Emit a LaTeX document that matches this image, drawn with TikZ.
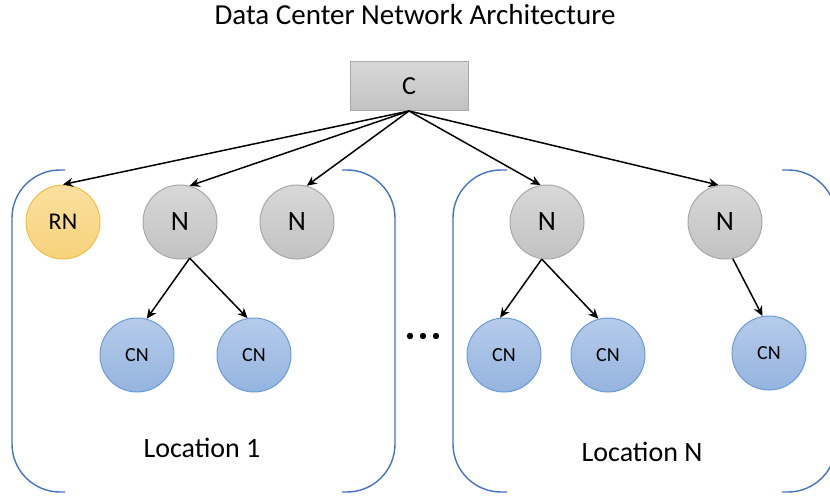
\documentclass[tikz,border=0pt]{standalone}
\usepackage{fontspec}
\setmainfont{Carlito}
\usetikzlibrary{arrows.meta}
\definecolor{locblue}{HTML}{4472C4}
\definecolor{rnfilltop}{HTML}{FBE0A0}
\definecolor{rnfillbot}{HTML}{F7D27A}
\definecolor{rnline}{HTML}{F3BE45}
\definecolor{nfilltop}{HTML}{D8D8D8}
\definecolor{nfillbot}{HTML}{C2C2C2}
\definecolor{nline}{HTML}{A8A8A8}
\definecolor{cnfilltop}{HTML}{B6CBEA}
\definecolor{cnfillbot}{HTML}{94B4DF}
\definecolor{cnline}{HTML}{6A9BD6}
\begin{document}
\begin{tikzpicture}[x=1pt,y=-1pt,
    ctrl/.style={draw=nline,line width=1pt,top color=nfilltop,bottom color=nfillbot,
      minimum width=118pt,minimum height=49pt,inner sep=0pt,font=\fontsize{26}{30}\selectfont},
    rnode/.style={circle,draw=rnline,line width=1pt,top color=rnfilltop,bottom color=rnfillbot,
      minimum size=74pt,inner sep=0pt,font=\fontsize{24}{28}\selectfont},
    nnode/.style={circle,draw=nline,line width=1pt,top color=nfilltop,bottom color=nfillbot,
      minimum size=74pt,inner sep=0pt,font=\fontsize{28}{32}\selectfont},
    cnode/.style={circle,draw=cnline,line width=1pt,top color=cnfilltop,bottom color=cnfillbot,
      minimum size=74pt,inner sep=0pt,font=\fontsize{20}{24}\selectfont},
    arr/.style={-{Stealth[length=10pt,width=9pt]},line width=1.5pt},
    loc/.style={locblue,line width=1.4pt,rounded corners=48pt}]
	\useasboundingbox (0,0) rectangle (830,497);
	\clip (0,0) rectangle (830,497);
	\node[font=\fontsize{29}{34}\selectfont] (title) at (415,15) {Data Center Network Architecture};
	\node[ctrl] (c) at (409,86) {C};
	\node[rnode] (rn) at (63,222) {RN};
	\node[nnode] (n1) at (180,222) {N};
	\node[nnode] (n2) at (297,222) {N};
	\node[nnode] (n3) at (547,222) {N};
	\node[nnode] (n4) at (725,222) {N};
	\node[cnode] (cn1) at (137,355) {CN};
	\node[cnode] (cn2) at (254,355) {CN};
	\node[cnode] (cn3) at (504,355) {CN};
	\node[cnode] (cn4) at (608,355) {CN};
	\node[cnode] (cn5) at (769,353) {CN};
	\node[font=\fontsize{28}{32}\selectfont] (loc1) at (202,448) {Location 1};
	\node[font=\fontsize{28}{32}\selectfont] (locn) at (642,452) {Location N};
	% brackets round the two locations
	\draw[loc] (65,170) -- (12,170) -- (12,492) -- (65,492);
	\draw[loc] (342,170) -- (395,170) -- (395,492) -- (342,492);
	\draw[loc] (507,170) -- (453,170) -- (453,492) -- (507,492);
	\draw[loc] (782,170) -- (836,170) -- (836,492) -- (782,492);
	% controller links
	\draw[arr] (c.south) -- (rn.north);
	\draw[arr] (c.south) -- (n1.75);
	\draw[arr] (c.south) -- (n2.75);
	\draw[arr] (c.south) -- (n3.100);
	\draw[arr] (c.south) -- (n4.100);
	% node links
	\draw[arr] (n1.-75) -- (cn1.75);
	\draw[arr] (n1.-75) -- (cn2.100);
	\draw[arr] (n3.-98) -- (cn3.96);
	\draw[arr] (n3.-98) -- (cn4.105);
	\draw[arr] (n4.-78) -- (cn5.100);
	\foreach \x in {410,423,436}
		\fill (\x,336) circle (3.2pt);
\end{tikzpicture}
\end{document}
